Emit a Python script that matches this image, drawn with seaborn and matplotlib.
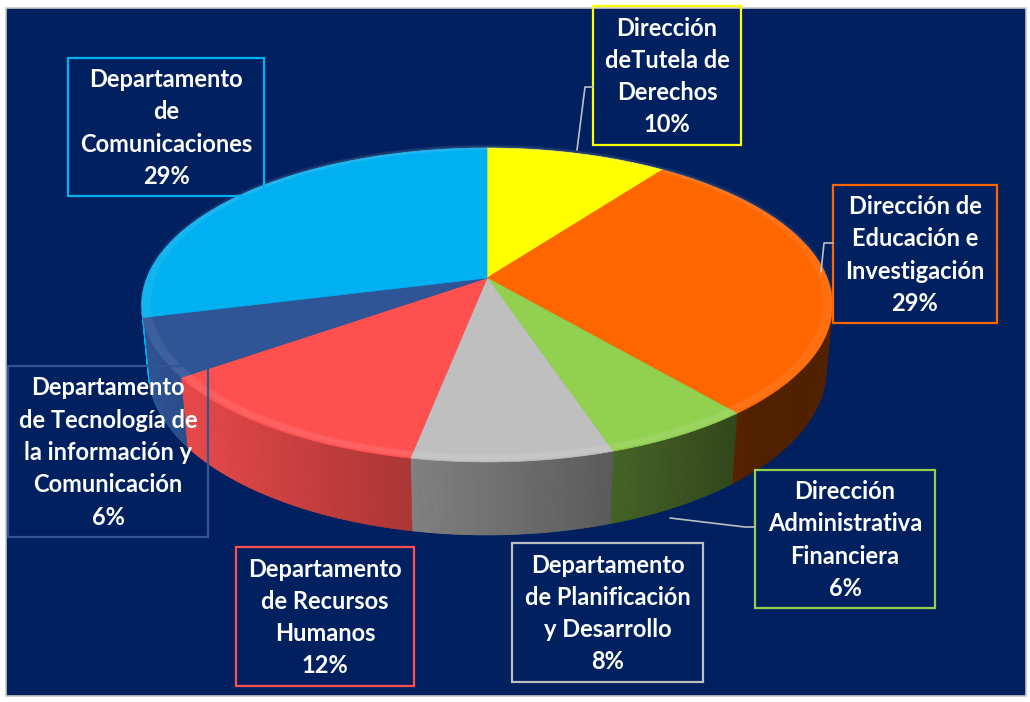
import numpy as np
import matplotlib.pyplot as plt
import seaborn as sns
from matplotlib.patches import Polygon, Rectangle
from matplotlib.collections import PolyCollection
from matplotlib.colors import to_rgb

# Data
departments = [
    "Dirección\ndeTutela de\nDerechos",
    "Dirección de\nEducación e\nInvestigación",
    "Dirección\nAdministrativa\nFinanciera",
    "Departamento\nde Planificación\ny Desarrollo",
    "Departamento\nde Recursos\nHumanos",
    "Departamento\nde Tecnología de\nla información y\nComunicación",
    "Departamento\nde\nComunicaciones",
]
shares = [10, 29, 6, 8, 12, 6, 29]
slice_colors = ["#FFFF00", "#FF6600", "#92D050", "#BFBFBF", "#FF5050", "#2F5597", "#00B0F0"]

# label boxes in pixel coords (x0, y0, x1, y1)
label_boxes = [
    (593, 6, 741, 145),
    (833, 185, 997, 323),
    (755, 470, 935, 608),
    (512, 543, 703, 682),
    (236, 547, 414, 686),
    (8, 366, 208, 537),
    (68, 58, 264, 196),
]

sns.set_theme(style="white")
plt.rcParams['font.family'] = ['Lato', 'DejaVu Sans']
palette = sns.color_palette(slice_colors)

fig = plt.figure(figsize=(10.3, 7.02), dpi=100, facecolor="white")
ax = fig.add_axes([0, 0, 1, 1])
ax.set_xlim(0, 1030)
ax.set_ylim(702, 0)
ax.axis("off")

# background panel
ax.add_patch(Rectangle((6, 8), 1020, 688, facecolor="#002060", edgecolor="#C8C8C8", lw=1.2, zorder=0))

# perspective 3D pie (unit radius disc, tilted towards viewer)
cx, cy = 487, 278
tilt = np.radians(26.6)
dist, focal, thick = 5.2, 1769, 0.214
s_a, c_a = np.sin(tilt), np.cos(tilt)


def proj(phi_deg, z=0.0):
    p = np.radians(phi_deg)
    X, Y = np.cos(p), np.sin(p)
    yc = Y * s_a + z * c_a
    d = dist + Y * c_a - z * s_a
    return cx + focal * X / d, cy - focal * yc / d


edges = 90 - 360 * np.concatenate([[0], np.cumsum(shares)]) / sum(shares)

# visible part of the side wall
lim = np.degrees(np.arcsin(1 / (dist * c_a)))
front_lo, front_hi = -180 + lim, -lim

for i, col in enumerate(palette):
    a0, a1 = edges[i], edges[i + 1]
    lo, hi = max(a1, front_lo), min(a0, front_hi)
    if hi <= lo:
        continue
    ts = np.linspace(hi, lo, max(int((hi - lo) * 2), 4))
    quads, cols = [], []
    base = np.array(to_rgb(col))
    for t0, t1 in zip(ts[:-1], ts[1:]):
        quads.append([proj(t0), proj(t1), proj(t1, -thick), proj(t0, -thick)])
        tm = np.radians((t0 + t1) / 2)
        f = np.clip(0.6 - 0.4 * np.cos(tm), 0.32, 1.0)
        cols.append(tuple(base * f))
    pc = PolyCollection(quads, facecolors=cols, edgecolors=cols, linewidths=0.6, zorder=2)
    ax.add_collection(pc)

# top face wedges
for i, col in enumerate(palette):
    ts = np.linspace(edges[i], edges[i + 1], 200)
    pts = [(cx, cy)] + [proj(t) for t in ts]
    ax.add_patch(Polygon(pts, closed=True, facecolor=col, edgecolor=col, lw=0.5, zorder=3))

# soft bevel highlight along the rim
tt = np.linspace(0, 360, 400)
for k in range(5):
    sc = 1 - k * 0.006
    pts = np.array([proj(t) for t in tt])
    xs = cx + (pts[:, 0] - cx) * sc
    ys = cy + (pts[:, 1] - cy) * sc - 2
    ax.plot(xs, ys, color="white", alpha=0.05, lw=2, zorder=4)

# labels
for name, val, col, (x0, y0, x1, y1) in zip(departments, shares, palette, label_boxes):
    ax.add_patch(Rectangle((x0, y0), x1 - x0, y1 - y0, facecolor="none",
                           edgecolor=col, lw=1.6, zorder=5))
    ax.text((x0 + x1) / 2, (y0 + y1) / 2 + 1, f"{name}\n{val}%", ha="center", va="center",
            multialignment="center", color="white", fontsize=17, fontweight="bold",
            linespacing=1.49, zorder=6)

# leader lines
lc = "#BFBFBF"
ax.plot([593, 585, 577], [87, 87, 150], color=lc, lw=1.2, zorder=5)
ax.plot([833, 824, 821], [243, 243, 272], color=lc, lw=1.2, zorder=5)
ax.plot([755, 745, 670], [527, 527, 518], color=lc, lw=1.2, zorder=5)

fig.savefig("out.png", dpi=100, facecolor=fig.get_facecolor())
